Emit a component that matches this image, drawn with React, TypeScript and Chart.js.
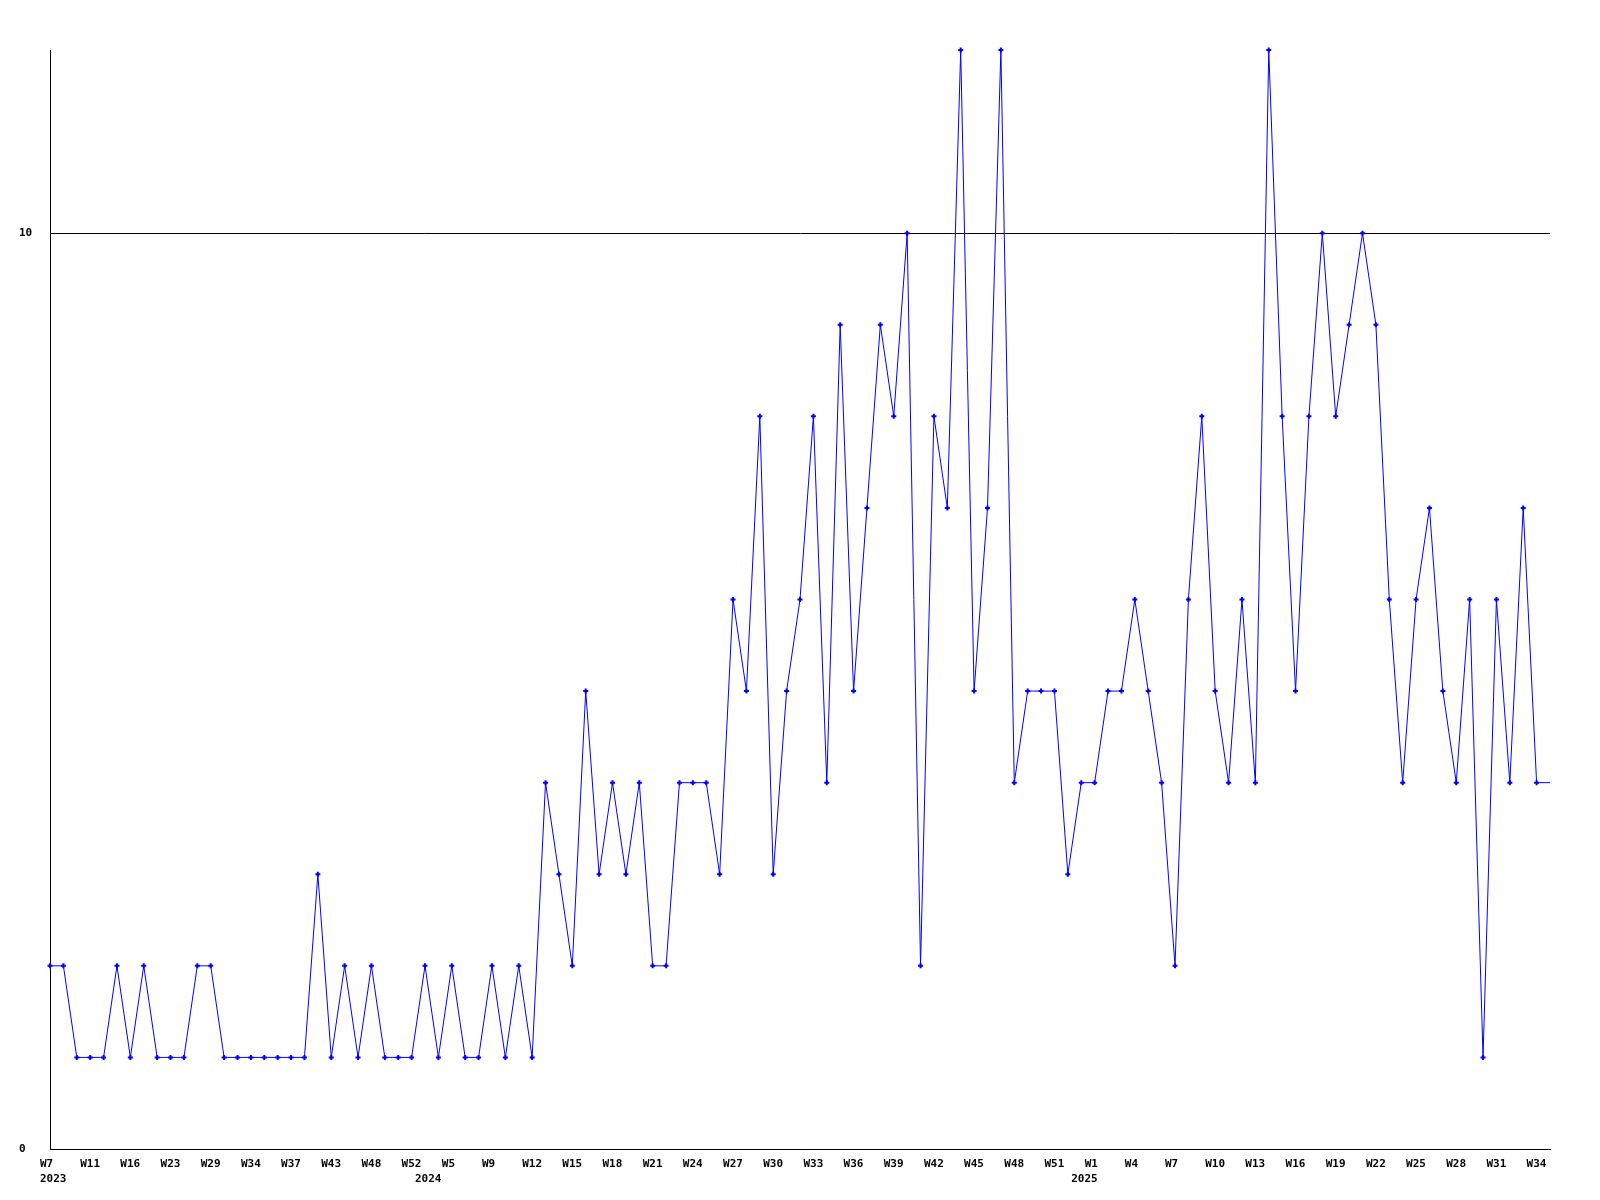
import { useEffect, useRef } from 'react';
import { Chart, registerables } from 'chart.js';

Chart.register(...registerables);

// Category (week) labels for each data point
const weeks: string[] = [
  'W7', 'W8', 'W10', 'W11', 'W13', 'W14', 'W16', 'W18', 'W20', 'W23',
  'W25', 'W27', 'W29', 'W31', 'W32', 'W34', 'W35', 'W36', 'W37', 'W39',
  'W41', 'W43', 'W45', 'W46', 'W48', 'W49', 'W50', 'W52',
  'W1', 'W3', 'W5', 'W6', 'W8', 'W9', 'W10', 'W11',
  'W12', 'W13', 'W14', 'W15', 'W16', 'W17', 'W18', 'W19', 'W20', 'W21',
  'W22', 'W23', 'W24', 'W25', 'W26', 'W27', 'W28', 'W29', 'W30', 'W31',
  'W32', 'W33', 'W34', 'W35', 'W36', 'W37', 'W38', 'W39', 'W40', 'W41',
  'W42', 'W43', 'W44', 'W45', 'W46', 'W47', 'W48', 'W49', 'W50', 'W51', 'W52',
  'W0', 'W1', 'W2', 'W3', 'W4', 'W5', 'W6', 'W7', 'W8', 'W9', 'W10',
  'W11', 'W12', 'W13', 'W14', 'W15', 'W16', 'W17', 'W18', 'W19', 'W20',
  'W21', 'W22', 'W23', 'W24', 'W25', 'W26', 'W27', 'W28', 'W29', 'W30',
  'W31', 'W32', 'W33', 'W34', 'W35',
];

// Year of each data point
const years: number[] = [
  ...Array(28).fill(2023),
  ...Array(49).fill(2024),
  ...Array(36).fill(2025),
];

// Weekly counts
const counts: number[] = [
  2, 2, 1, 1, 1, 2, 1, 2, 1, 1,
  1, 2, 2, 1, 1, 1, 1, 1, 1, 1,
  3, 1, 2, 1, 2, 1, 1, 1, 2, 1,
  2, 1, 1, 2, 1, 2, 1, 4, 3, 2,
  5, 3, 4, 3, 4, 2, 2, 4, 4, 4,
  3, 6, 5, 8, 3, 5, 6, 8, 4, 9,
  5, 7, 9, 8, 10, 2, 8, 7, 12, 5,
  7, 12, 4, 5, 5, 5, 3, 4, 4, 5,
  5, 6, 5, 4, 2, 6, 8, 5, 4, 6,
  4, 12, 8, 5, 8, 10, 8, 9, 10, 9,
  6, 4, 6, 7, 5, 4, 6, 1, 6, 4,
  7, 4, 4,
];

const yTicks: number[] = [0, 10];

const FONT = { family: '"DejaVu Sans Mono", "Liberation Mono", monospace', weight: 'bold' as const, size: 11, lineHeight: '15px' };

export default function App() {
  const ref = useRef<HTMLCanvasElement>(null);

  useEffect(() => {
    if (!ref.current) return;
    const last = counts.length - 1;
    const chart = new Chart(ref.current, {
      type: 'line',
      data: {
        labels: weeks,
        datasets: [
          {
            data: counts,
            borderColor: '#0000ff',
            backgroundColor: '#0000ff',
            borderWidth: 1,
            tension: 0,
            fill: false,
            pointStyle: 'cross',
            pointRadius: (ctx: any) => (ctx.dataIndex === last ? 0 : 2.5),
            pointBorderWidth: 2,
            pointBorderColor: '#0000ff',
            pointBackgroundColor: '#0000ff',
            clip: 5,
          } as any,
        ],
      },
      options: {
        animation: false,
        responsive: false,
        devicePixelRatio: 1,
        layout: { padding: { left: 19, top: 50, right: 50, bottom: 0 } },
        plugins: { legend: { display: false }, tooltip: { enabled: false } },
        scales: {
          x: {
            type: 'category',
            offset: false,
            grid: { display: false },
            border: { display: true, color: '#000000', width: 1 },
            ticks: {
              autoSkip: false,
              maxRotation: 0,
              minRotation: 0,
              align: 'start',
              labelOffset: -10,
              padding: 0,
              color: '#000000',
              font: FONT,
              callback: (_v: any, i: number) => [
                i % 3 === 0 ? weeks[i] : '',
                i === 0 || years[i] !== years[i - 1] ? String(years[i]) : '',
              ],
            },
            afterFit: (s: any) => {
              s.height = 51;
            },
          },
          y: {
            min: 0,
            max: 12,
            afterBuildTicks: (s: any) => {
              s.ticks = yTicks.map((v) => ({ value: v }));
            },
            grid: { color: '#000000', lineWidth: 1, drawTicks: false },
            border: { display: true, color: '#000000', width: 1 },
            ticks: {
              crossAlign: 'far',
              padding: 0,
              color: '#000000',
              font: FONT,
            },
            afterFit: (s: any) => {
              s.width = 31;
            },
          },
        },
      } as any,
    });
    return () => chart.destroy();
  }, []);

  return (
    <div style={{ position: 'absolute', left: 0, top: 0, width: 1600, height: 1200, background: '#ffffff' }}>
      <canvas ref={ref} width={1600} height={1200} style={{ width: 1600, height: 1200, display: 'block' }} />
    </div>
  );
}
